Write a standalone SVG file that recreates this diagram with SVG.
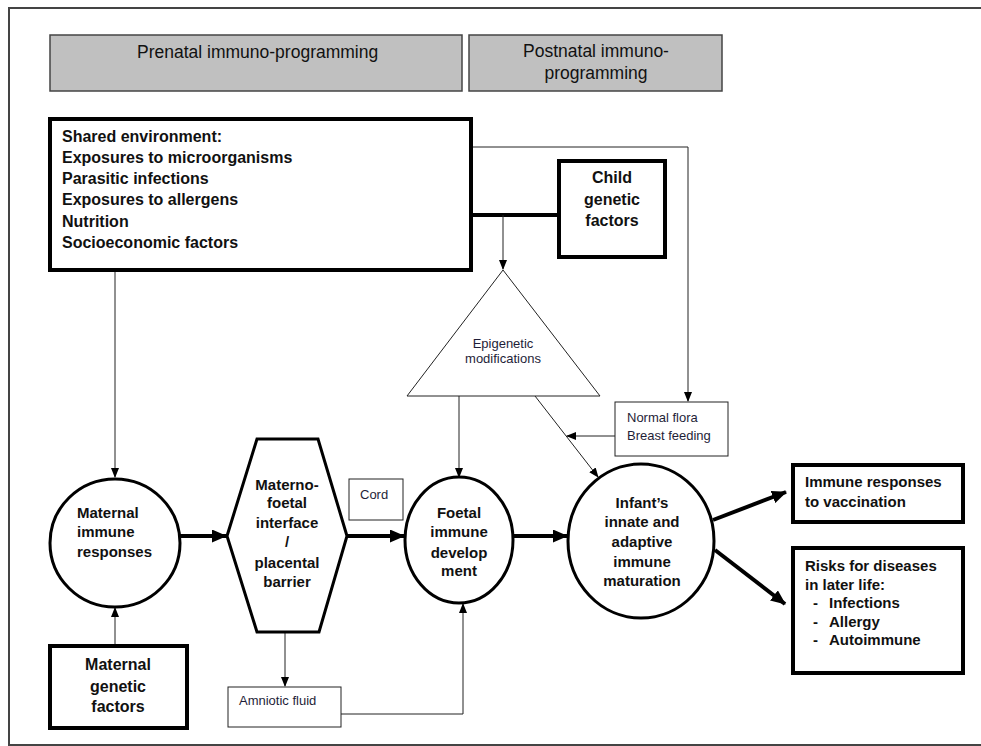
<svg xmlns="http://www.w3.org/2000/svg" width="981" height="746" viewBox="0 0 981 746">
<style>
.hdr{fill:#c0c0c0;stroke:#444;stroke-width:1.5}
.ht{font-family:"Liberation Sans",Arial,sans-serif;font-size:17.5px;fill:#111}
.b{font-family:"Liberation Sans",Arial,sans-serif;font-weight:bold;font-size:15px;fill:#111}
.b16{font-family:"Liberation Sans",Arial,sans-serif;font-weight:bold;font-size:16px;fill:#111}
.s{font-family:"Liberation Sans",Arial,sans-serif;font-size:13px;fill:#1e1e38}
.thick{fill:#fff;stroke:#000;stroke-width:4}
.med{fill:#fff;stroke:#000;stroke-width:3}
.thin{fill:#fff;stroke:#222;stroke-width:1}
.c{text-anchor:middle}
.ln{fill:none;stroke:#222;stroke-width:1}
.lnT{fill:none;stroke:#000;stroke-width:4}
</style>
<defs>
<marker id="a" markerUnits="userSpaceOnUse" markerWidth="10" markerHeight="8" refX="9" refY="4" orient="auto"><path d="M0,0 L10,4 L0,8 z" fill="#000"/></marker>
<marker id="A" markerUnits="userSpaceOnUse" markerWidth="15" markerHeight="13" refX="14" refY="6.5" orient="auto"><path d="M0,0 L15,6.5 L0,13 z" fill="#000"/></marker>
</defs>
<rect width="981" height="746" fill="#fff"/>
<path d="M981,8 H9 V745 H981" fill="none" stroke="#444" stroke-width="2"/>

<g id="connectors">
<path class="ln" d="M115,272 V477" marker-end="url(#a)"/>
<path class="ln" d="M115,645 V608" marker-end="url(#a)"/>
<path class="lnT" d="M180,536 H226" marker-end="url(#A)"/>
<path class="lnT" d="M347,536 H404" marker-end="url(#A)"/>
<path class="lnT" d="M513,536 H567" marker-end="url(#A)"/>
<path class="ln" d="M285,632 V686" marker-end="url(#a)"/>
<path class="ln" stroke="#555" d="M341,714 H463 V604" marker-end="url(#a)"/>
<path class="lnT" d="M471,215 H559"/>
<path class="ln" stroke-width="2.5" d="M503,215 V269" marker-end="url(#a)"/>
<path class="ln" d="M471,147 H688 V401" marker-end="url(#a)"/>
<path class="ln" d="M459,396 V477" marker-end="url(#a)"/>
<path class="ln" d="M535,396 L598,477" marker-end="url(#a)"/>
<path class="ln" d="M615,436 H567" marker-end="url(#a)"/>
<path class="lnT" d="M713,520 L786,492" marker-end="url(#A)"/>
<path class="lnT" d="M715,550 L785,604" marker-end="url(#A)"/>
</g>

<g id="prenatal">
<rect class="hdr" x="50" y="35" width="412" height="56"/>
<text class="ht" x="137" y="58">Prenatal immuno-programming</text>
</g>
<g id="postnatal">
<rect class="hdr" x="469" y="35" width="253" height="56"/>
<text class="ht c" x="596" y="57">Postnatal immuno-</text>
<text class="ht c" x="596" y="79">programming</text>
</g>

<g id="shared-environment">
<rect class="thick" x="50" y="119" width="421" height="151"/>
<text class="b16" x="62" y="142">Shared environment:</text>
<text class="b16" x="62" y="163">Exposures to microorganisms</text>
<text class="b16" x="62" y="184">Parasitic infections</text>
<text class="b16" x="62" y="205">Exposures to allergens</text>
<text class="b16" x="62" y="227">Nutrition</text>
<text class="b16" x="62" y="248">Socioeconomic factors</text>
</g>

<g id="child-genetic">
<rect class="thick" x="559" y="161" width="106" height="96"/>
<text class="b16 c" x="612" y="183">Child</text>
<text class="b16 c" x="612" y="205">genetic</text>
<text class="b16 c" x="612" y="226">factors</text>
</g>

<g id="epigenetic">
<polygon class="thin" points="503,270 600,396 407,396"/>
<text class="s c" x="503" y="348">Epigenetic</text>
<text class="s c" x="503" y="363">modifications</text>
</g>

<g id="normal-flora">
<rect class="thin" x="615" y="402" width="113" height="54"/>
<text class="s" x="627" y="422">Normal flora</text>
<text class="s" x="627" y="440">Breast feeding</text>
</g>

<g id="maternal-immune">
<ellipse class="med" cx="115" cy="543" rx="65" ry="64"/>
<text class="b" x="77" y="518">Maternal</text>
<text class="b" x="77" y="537">immune</text>
<text class="b" x="77" y="557">responses</text>
</g>

<g id="maternal-genetic">
<rect class="thick" x="50" y="646" width="137" height="82"/>
<text class="b16 c" x="118" y="670">Maternal</text>
<text class="b16 c" x="118" y="692">genetic</text>
<text class="b16 c" x="118" y="712">factors</text>
</g>

<g id="placenta">
<polygon class="med" points="257,439 318,439 347,536 319,632 257,632 227,536"/>
<text class="b c" x="287" y="490">Materno-</text>
<text class="b c" x="287" y="508">foetal</text>
<text class="b c" x="287" y="528">interface</text>
<text class="b c" x="287" y="547">/</text>
<text class="b c" x="287" y="568">placental</text>
<text class="b c" x="287" y="587">barrier</text>
</g>

<g id="cord">
<rect class="thin" x="349" y="479" width="54" height="41"/>
<text class="s" x="360" y="499">Cord</text>
</g>

<g id="amniotic">
<rect class="thin" x="228" y="687" width="113" height="40"/>
<text class="s" x="239" y="705">Amniotic fluid</text>
</g>

<g id="foetal">
<ellipse class="med" cx="459" cy="540" rx="54" ry="63"/>
<text class="b c" x="459" y="518">Foetal</text>
<text class="b c" x="459" y="537">immune</text>
<text class="b c" x="459" y="558">develop</text>
<text class="b c" x="459" y="576">ment</text>
</g>

<g id="infant">
<ellipse class="med" cx="641" cy="541" rx="73" ry="77"/>
<text class="b c" x="642" y="508">Infant’s</text>
<text class="b c" x="642" y="527">innate and</text>
<text class="b c" x="642" y="547">adaptive</text>
<text class="b c" x="642" y="567">immune</text>
<text class="b c" x="642" y="586">maturation</text>
</g>

<g id="vaccination">
<rect class="thick" x="793" y="465" width="170" height="57"/>
<text class="b" x="805" y="487">Immune responses</text>
<text class="b" x="805" y="507">to vaccination</text>
</g>

<g id="risks">
<rect class="thick" x="793" y="548" width="170" height="125"/>
<text class="b" x="805" y="571">Risks for diseases</text>
<text class="b" x="805" y="590">in later life:</text>
<text class="b" x="813" y="608">-</text><text class="b" x="829" y="608">Infections</text>
<text class="b" x="813" y="627">-</text><text class="b" x="829" y="627">Allergy</text>
<text class="b" x="813" y="645">-</text><text class="b" x="829" y="645">Autoimmune</text>
</g>
</svg>
